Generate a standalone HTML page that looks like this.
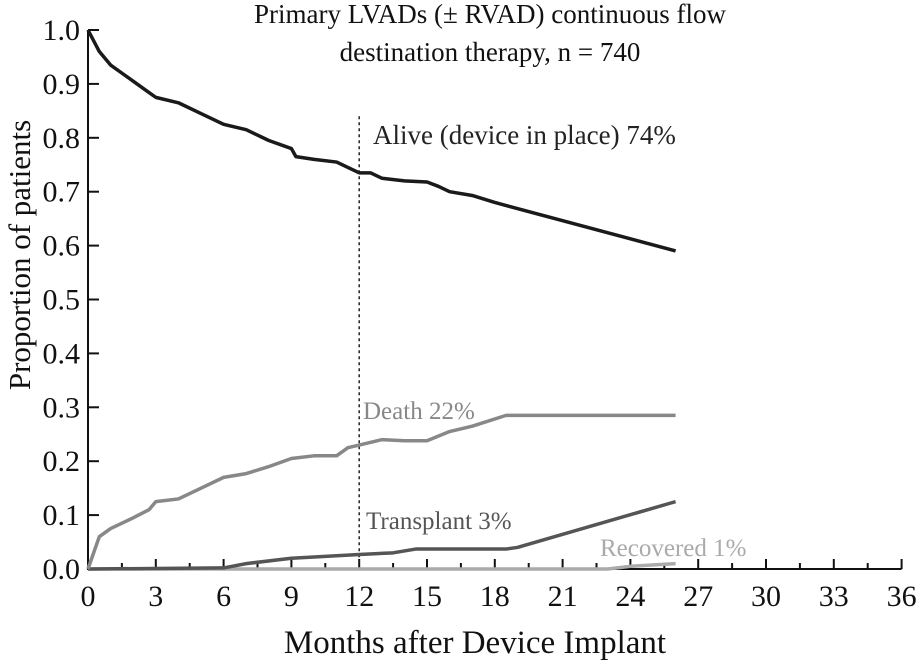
<!DOCTYPE html>
<html><head><meta charset="utf-8"><style>
body{margin:0;background:#fff}
text{font-family:"Liberation Serif",serif}
</style></head><body>
<svg id="c" width="917" height="662"></svg>
<script>
const xTicks=[0,3,6,9,12,15,18,21,24,27,30,33,36];
const yTicks=[0,0.1,0.2,0.3,0.4,0.5,0.6,0.7,0.8,0.9,1.0];
const aliveM=[0,0.5,1,1.5,2,2.5,3,4,5,6,7,8,9,9.2,10,11,11.5,12,12.5,13,14,15,15.5,16,17,18,26];
const aliveV=[1.0,0.96,0.935,0.92,0.905,0.89,0.875,0.865,0.845,0.825,0.815,0.795,0.78,0.765,0.76,0.755,0.745,0.735,0.735,0.725,0.72,0.718,0.71,0.70,0.693,0.68,0.59];
const deathM=[0,0.5,1,2,2.7,3,4,5,6,7,8,9,10,11,11.5,12,13,14,15,16,17,18.5,26];
const deathV=[0,0.06,0.075,0.095,0.11,0.125,0.13,0.15,0.17,0.177,0.19,0.205,0.21,0.21,0.225,0.23,0.24,0.238,0.238,0.255,0.265,0.285,0.285];
const txM=[0,6,7,9,12,13.5,14.5,18.5,19,26];
const txV=[0,0.002,0.01,0.02,0.027,0.03,0.037,0.037,0.04,0.125];
const recM=[0,23,24,26];
const recV=[0,0,0.005,0.01];
const NS='http://www.w3.org/2000/svg';
const svg=document.getElementById('c');
const X=m=>88+m*22.6, Y=v=>569-v*539;
function mk(t,a,p){const e=document.createElementNS(NS,t);for(const k in a)e.setAttribute(k,a[k]);(p||svg).appendChild(e);return e;}
function txt(s,x,y,size,fill,anchor,name){const e=mk('text',{x:x,y:y,'font-size':size,fill:fill,'text-anchor':anchor});e.textContent=s;


return e;}
let ax=mk('path',{d:`M88 30V569H${X(36)}`,stroke:'#111','stroke-width':2,fill:'none'});


yTicks.forEach(v=>{
 const t=mk('line',{x1:88,x2:99,y1:Y(v),y2:Y(v),stroke:'#111','stroke-width':2});
 
 
 txt(v.toFixed(1),80,Y(v)+10,30,'#111','end','y-tick-label');
});
for(let m=1.5;m<=36;m+=1.5){
 const major=m%3===0;
 const t=mk('line',{x1:X(m),x2:X(m),y1:569,y2:major?559:563,stroke:'#111','stroke-width':2});
 
 
}
xTicks.forEach(m=>txt(String(m),X(m),606,30,'#111','middle','x-tick-label'));
let d=mk('line',{x1:X(12),x2:X(12),y1:Y(0.84),y2:569,stroke:'#222','stroke-width':1.5,'stroke-dasharray':'3,3'});


function series(M,V,col,w,name){
 const p=mk('polyline',{points:M.map((m,i)=>X(m)+','+Y(V[i])).join(' '),fill:'none',stroke:col,'stroke-width':w,'stroke-linejoin':'round'});
 
 
}
series(recM,recV,'#aaa',3.5,'recovered-line');
series(txM,txV,'#555',3.5,'transplant-line');
series(deathM,deathV,'#888',3.5,'death-line');
series(aliveM,aliveV,'#1a1a1a',3.5,'alive-line');
txt('Alive (device in place) 74%',373,144,27,'#222','start','alive-label');
txt('Death 22%',363,419,25,'#888','start','death-label');
txt('Transplant 3%',366,529,25,'#555','start','transplant-label');
txt('Recovered 1%',600,556,25,'#aaa','start','recovered-label');
txt('Primary LVADs (± RVAD) continuous flow',490,23,27,'#111','middle','chart-title-line1');
txt('destination therapy, n = 740',490,61,27,'#111','middle','chart-title-line2');
txt('Months after Device Implant',475,653,33,'#111','middle','x-axis-title');
const yt=txt('Proportion of patients',0,0,31,'#111','middle','y-axis-title');
yt.setAttribute('transform','translate(30,255) rotate(-90)');
</script>
</body></html>
